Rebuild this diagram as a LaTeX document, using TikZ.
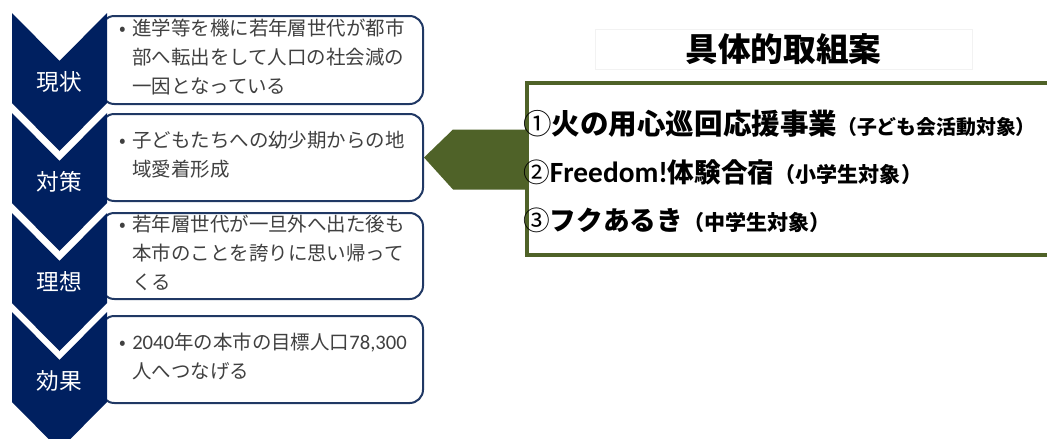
\documentclass[tikz,border=0pt]{standalone}
\usepackage{fontspec}
\setmainfont{Noto Sans CJK JP}
\newfontfamily\lat{Carlito}
\definecolor{navy}{HTML}{002060}
\definecolor{boxline}{HTML}{203864}
\definecolor{txtgray}{HTML}{404040}
\definecolor{olive}{HTML}{4F6228}
\tikzset{
  chev/.style={fill=navy},
  chevlabel/.style={text=white, font=\fontsize{17pt}{20pt}\selectfont, inner sep=0},
  infobox/.style={draw=boxline, line width=1.5pt, rounded corners=10pt, fill=white,
    anchor=north west, minimum width=241.5pt, inner sep=0},
  btext/.style={anchor=west, inner sep=0, text=txtgray, font=\fontsize{14.6pt}{21.75pt}\selectfont},
  plantext/.style={anchor=west, inner sep=0, text=black},
  linea/.style={font=\bfseries\fontsize{21.4pt}{26pt}\selectfont},
  lineb/.style={font=\bfseries\fontsize{20pt}{24pt}\selectfont},
}
\newcommand{\smallpart}[2][15.8pt]{{\fontsize{#1}{18pt}\selectfont #2}}
\newcommand{\bul}{\makebox[9.75pt][l]{\hspace{0.5pt}•}}
\begin{document}
\begin{tikzpicture}[x=0.75pt,y=-0.75pt]
\useasboundingbox (0,0) rectangle (1047,439);
\fill[white] (0,0) rectangle (1047,439);

% rounded text boxes (drawn first, chevrons cover their left ends)
\node[infobox, minimum height=66pt] (b1) at (100,15) {};
\node[infobox, minimum height=65.25pt] (b2) at (100,113) {};
\node[infobox, minimum height=64.5pt] (b3) at (100,212) {};
\node[infobox, minimum height=65.25pt] (b4) at (100,315) {};

% chevrons
\foreach \t/\lab/\n in {13/現状/c1,113/対策/c2,213/理想/c3,312/効果/c4}{
  \fill[chev] (12,\t) -- (59.5,\t+48) -- (107,\t) -- (107,\t+90) -- (59.5,\t+138) -- (12,\t+90) -- cycle;
  \node[chevlabel] (\n) at (59.5,\t+69) {\lab};
}

% texts in boxes
\node[btext] (t1) at (119,59) {\begin{tabular}{@{}l@{}l@{}}
\bul & 進学等を機に若年層世代が都市\\ & 部へ転出をして人口の社会減の\\ & 一因となっている\end{tabular}};
\node[btext] (t2) at (119,156) {\begin{tabular}{@{}l@{}l@{}}
\bul & 子どもたちへの幼少期からの地\\ & 域愛着形成\end{tabular}};
\node[btext] (t3) at (119,255) {\begin{tabular}{@{}l@{}l@{}}
\bul & 若年層世代が一旦外へ出た後も\\ & 本市のことを誇りに思い帰って\\ & くる\end{tabular}};
\node[btext] (t4) at (119,358) {\begin{tabular}{@{}l@{}l@{}}
\bul & {\lat\fontsize{15.5pt}{21.75pt}\selectfont 2040}年の本市の目標人口{\lat\fontsize{15.5pt}{21.75pt}\selectfont 78,300}\\ & 人へつなげる\end{tabular}};

% title
\node[draw=black!5, line width=0.5pt, minimum width=282.75pt, minimum height=30pt, inner sep=0,
  font=\bfseries\fontsize{24.5pt}{28pt}\selectfont] (title) at (783.5,49) {具体的取組案};

% green plan box
\node[draw=olive, line width=3pt, anchor=north west, minimum width=405pt, minimum height=129pt, inner sep=0] (plan) at (525,81) {};

% block arrow from plan box to box 2
\coordinate (tip) at (b2.east);
\fill[olive] (tip) -- ++(29,-28) -- ++(74,0) -- ++(0,60) -- ++(-74,0) -- cycle;

% plan texts
\node[plantext, linea] (p1) at (523,124) {{\mdseries ①}火の用心巡回応援事業\smallpart[14.9pt]{（子ども会活動対象）}};
\node[plantext, lineb] (p2) at (523,172) {{\mdseries ②}{\lat\fontsize{22pt}{24pt}\selectfont Freedom!}体験合宿\smallpart{（小学生対象）}};
\node[plantext, lineb] (p3) at (523,220) {{\mdseries ③}フクあるき\smallpart{（中学生対象）}};
\end{tikzpicture}
\end{document}
